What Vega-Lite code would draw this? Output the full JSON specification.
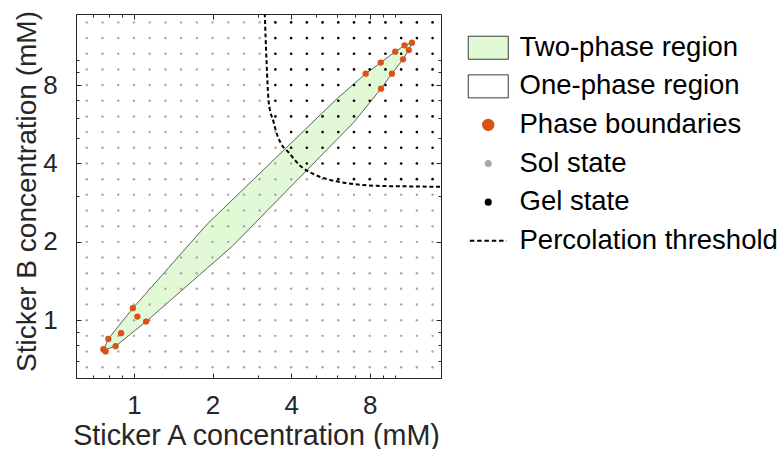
{
"$schema": "https://vega.github.io/schema/vega-lite/v6.json",
"width": 365, "height": 364,
"autosize": {"type": "none"},
"padding": {"left": 76, "top": 14, "right": 341, "bottom": 71},
"background": "white",
"config": {
 "font": "Liberation Sans",
 "view": {"stroke": "#262626", "strokeWidth": 1},
 "axis": {"domain": false, "grid": false, "tickColor": "#262626", "tickWidth": 1, "labelColor": "#262626", "labelFont": "Liberation Sans", "labelFontSize": 26, "titleFont": "Liberation Sans", "titleFontSize": 28, "titleColor": "#262626", "titleFontWeight": "normal", "labelOverlap": false, "labelFlush": false}
},
"datasets": {
 "poly": [
  {"a":0.763,"b":0.766,"o":0},{"a":0.798,"b":0.848,"o":1},{"a":0.991,"b":1.113,"o":2},{"a":1.909,"b":2.341,"o":3},{"a":6.0,"b":7.10,"o":4},{"a":7.72,"b":8.85,"o":5},{"a":8.815,"b":9.76,"o":6},{"a":10.02,"b":10.75,"o":7},{"a":10.875,"b":11.37,"o":8},{"a":11.61,"b":11.64,"o":9},{"a":11.29,"b":10.90,"o":10},{"a":10.73,"b":10.05,"o":11},{"a":9.73,"b":8.85,"o":12},{"a":8.84,"b":7.75,"o":13},{"a":6.94,"b":5.745,"o":14},{"a":2.378,"b":1.922,"o":15},{"a":1.113,"b":0.988,"o":16},{"a":0.851,"b":0.795,"o":17}
 ],
 "pts": [
  {"a":11.61,"b":11.64},{"a":10.875,"b":11.37},{"a":11.29,"b":10.90},{"a":10.02,"b":10.75},{"a":10.73,"b":10.05},{"a":8.815,"b":9.76},{"a":9.73,"b":8.85},{"a":7.72,"b":8.85},{"a":8.84,"b":7.75},
  {"a":0.991,"b":1.113},{"a":1.031,"b":1.033},{"a":1.113,"b":0.988},{"a":0.893,"b":0.892},{"a":0.798,"b":0.848},{"a":0.851,"b":0.795},{"a":0.764,"b":0.774},{"a":0.779,"b":0.759}
 ],
 "perc": [
  {"a":3.17,"b":15.1},{"a":3.218,"b":10.05},{"a":3.284,"b":6.855},{"a":3.431,"b":5.745},{"a":3.483,"b":5.415},{"a":3.640,"b":4.815},{"a":3.916,"b":4.408},{"a":4.341,"b":3.916},{"a":4.880,"b":3.640},{"a":5.492,"b":3.482},{"a":6.551,"b":3.361},{"a":8.533,"b":3.283},{"a":11.44,"b":3.265},{"a":14.68,"b":3.254},{"a":15.2,"b":3.252}
 ],
 "grid": [
{"a":0.66,"b":0.66,"s":"Sol state"},{"a":0.758,"b":0.66,"s":"Sol state"},{"a":0.871,"b":0.66,"s":"Sol state"},{"a":1,"b":0.66,"s":"Sol state"},{"a":1.149,"b":0.66,"s":"Sol state"},{"a":1.32,"b":0.66,"s":"Sol state"},{"a":1.516,"b":0.66,"s":"Sol state"},{"a":1.741,"b":0.66,"s":"Sol state"},{"a":2,"b":0.66,"s":"Sol state"},{"a":2.297,"b":0.66,"s":"Sol state"},{"a":2.639,"b":0.66,"s":"Sol state"},{"a":3.031,"b":0.66,"s":"Sol state"},{"a":3.482,"b":0.66,"s":"Sol state"},{"a":4,"b":0.66,"s":"Sol state"},{"a":4.595,"b":0.66,"s":"Sol state"},{"a":5.278,"b":0.66,"s":"Sol state"},{"a":6.063,"b":0.66,"s":"Sol state"},{"a":6.964,"b":0.66,"s":"Sol state"},{"a":8,"b":0.66,"s":"Sol state"},{"a":9.19,"b":0.66,"s":"Sol state"},{"a":10.556,"b":0.66,"s":"Sol state"},{"a":12.126,"b":0.66,"s":"Sol state"},{"a":13.929,"b":0.66,"s":"Sol state"},
{"a":0.66,"b":0.758,"s":"Sol state"},{"a":0.758,"b":0.758,"s":"Sol state"},{"a":0.871,"b":0.758,"s":"Sol state"},{"a":1,"b":0.758,"s":"Sol state"},{"a":1.149,"b":0.758,"s":"Sol state"},{"a":1.32,"b":0.758,"s":"Sol state"},{"a":1.516,"b":0.758,"s":"Sol state"},{"a":1.741,"b":0.758,"s":"Sol state"},{"a":2,"b":0.758,"s":"Sol state"},{"a":2.297,"b":0.758,"s":"Sol state"},{"a":2.639,"b":0.758,"s":"Sol state"},{"a":3.031,"b":0.758,"s":"Sol state"},{"a":3.482,"b":0.758,"s":"Sol state"},{"a":4,"b":0.758,"s":"Sol state"},{"a":4.595,"b":0.758,"s":"Sol state"},{"a":5.278,"b":0.758,"s":"Sol state"},{"a":6.063,"b":0.758,"s":"Sol state"},{"a":6.964,"b":0.758,"s":"Sol state"},{"a":8,"b":0.758,"s":"Sol state"},{"a":9.19,"b":0.758,"s":"Sol state"},{"a":10.556,"b":0.758,"s":"Sol state"},{"a":12.126,"b":0.758,"s":"Sol state"},{"a":13.929,"b":0.758,"s":"Sol state"},
{"a":0.66,"b":0.871,"s":"Sol state"},{"a":0.758,"b":0.871,"s":"Sol state"},{"a":0.871,"b":0.871,"s":"Sol state"},{"a":1,"b":0.871,"s":"Sol state"},{"a":1.149,"b":0.871,"s":"Sol state"},{"a":1.32,"b":0.871,"s":"Sol state"},{"a":1.516,"b":0.871,"s":"Sol state"},{"a":1.741,"b":0.871,"s":"Sol state"},{"a":2,"b":0.871,"s":"Sol state"},{"a":2.297,"b":0.871,"s":"Sol state"},{"a":2.639,"b":0.871,"s":"Sol state"},{"a":3.031,"b":0.871,"s":"Sol state"},{"a":3.482,"b":0.871,"s":"Sol state"},{"a":4,"b":0.871,"s":"Sol state"},{"a":4.595,"b":0.871,"s":"Sol state"},{"a":5.278,"b":0.871,"s":"Sol state"},{"a":6.063,"b":0.871,"s":"Sol state"},{"a":6.964,"b":0.871,"s":"Sol state"},{"a":8,"b":0.871,"s":"Sol state"},{"a":9.19,"b":0.871,"s":"Sol state"},{"a":10.556,"b":0.871,"s":"Sol state"},{"a":12.126,"b":0.871,"s":"Sol state"},{"a":13.929,"b":0.871,"s":"Sol state"},
{"a":0.66,"b":1,"s":"Sol state"},{"a":0.758,"b":1,"s":"Sol state"},{"a":0.871,"b":1,"s":"Sol state"},{"a":1,"b":1,"s":"Sol state"},{"a":1.149,"b":1,"s":"Sol state"},{"a":1.32,"b":1,"s":"Sol state"},{"a":1.516,"b":1,"s":"Sol state"},{"a":1.741,"b":1,"s":"Sol state"},{"a":2,"b":1,"s":"Sol state"},{"a":2.297,"b":1,"s":"Sol state"},{"a":2.639,"b":1,"s":"Sol state"},{"a":3.031,"b":1,"s":"Sol state"},{"a":3.482,"b":1,"s":"Sol state"},{"a":4,"b":1,"s":"Sol state"},{"a":4.595,"b":1,"s":"Sol state"},{"a":5.278,"b":1,"s":"Sol state"},{"a":6.063,"b":1,"s":"Sol state"},{"a":6.964,"b":1,"s":"Sol state"},{"a":8,"b":1,"s":"Sol state"},{"a":9.19,"b":1,"s":"Sol state"},{"a":10.556,"b":1,"s":"Sol state"},{"a":12.126,"b":1,"s":"Sol state"},{"a":13.929,"b":1,"s":"Sol state"},
{"a":0.66,"b":1.149,"s":"Sol state"},{"a":0.758,"b":1.149,"s":"Sol state"},{"a":0.871,"b":1.149,"s":"Sol state"},{"a":1,"b":1.149,"s":"Sol state"},{"a":1.149,"b":1.149,"s":"Sol state"},{"a":1.32,"b":1.149,"s":"Sol state"},{"a":1.516,"b":1.149,"s":"Sol state"},{"a":1.741,"b":1.149,"s":"Sol state"},{"a":2,"b":1.149,"s":"Sol state"},{"a":2.297,"b":1.149,"s":"Sol state"},{"a":2.639,"b":1.149,"s":"Sol state"},{"a":3.031,"b":1.149,"s":"Sol state"},{"a":3.482,"b":1.149,"s":"Sol state"},{"a":4,"b":1.149,"s":"Sol state"},{"a":4.595,"b":1.149,"s":"Sol state"},{"a":5.278,"b":1.149,"s":"Sol state"},{"a":6.063,"b":1.149,"s":"Sol state"},{"a":6.964,"b":1.149,"s":"Sol state"},{"a":8,"b":1.149,"s":"Sol state"},{"a":9.19,"b":1.149,"s":"Sol state"},{"a":10.556,"b":1.149,"s":"Sol state"},{"a":12.126,"b":1.149,"s":"Sol state"},{"a":13.929,"b":1.149,"s":"Sol state"},
{"a":0.66,"b":1.32,"s":"Sol state"},{"a":0.758,"b":1.32,"s":"Sol state"},{"a":0.871,"b":1.32,"s":"Sol state"},{"a":1,"b":1.32,"s":"Sol state"},{"a":1.149,"b":1.32,"s":"Sol state"},{"a":1.32,"b":1.32,"s":"Sol state"},{"a":1.516,"b":1.32,"s":"Sol state"},{"a":1.741,"b":1.32,"s":"Sol state"},{"a":2,"b":1.32,"s":"Sol state"},{"a":2.297,"b":1.32,"s":"Sol state"},{"a":2.639,"b":1.32,"s":"Sol state"},{"a":3.031,"b":1.32,"s":"Sol state"},{"a":3.482,"b":1.32,"s":"Sol state"},{"a":4,"b":1.32,"s":"Sol state"},{"a":4.595,"b":1.32,"s":"Sol state"},{"a":5.278,"b":1.32,"s":"Sol state"},{"a":6.063,"b":1.32,"s":"Sol state"},{"a":6.964,"b":1.32,"s":"Sol state"},{"a":8,"b":1.32,"s":"Sol state"},{"a":9.19,"b":1.32,"s":"Sol state"},{"a":10.556,"b":1.32,"s":"Sol state"},{"a":12.126,"b":1.32,"s":"Sol state"},{"a":13.929,"b":1.32,"s":"Sol state"},
{"a":0.66,"b":1.516,"s":"Sol state"},{"a":0.758,"b":1.516,"s":"Sol state"},{"a":0.871,"b":1.516,"s":"Sol state"},{"a":1,"b":1.516,"s":"Sol state"},{"a":1.149,"b":1.516,"s":"Sol state"},{"a":1.32,"b":1.516,"s":"Sol state"},{"a":1.516,"b":1.516,"s":"Sol state"},{"a":1.741,"b":1.516,"s":"Sol state"},{"a":2,"b":1.516,"s":"Sol state"},{"a":2.297,"b":1.516,"s":"Sol state"},{"a":2.639,"b":1.516,"s":"Sol state"},{"a":3.031,"b":1.516,"s":"Sol state"},{"a":3.482,"b":1.516,"s":"Sol state"},{"a":4,"b":1.516,"s":"Sol state"},{"a":4.595,"b":1.516,"s":"Sol state"},{"a":5.278,"b":1.516,"s":"Sol state"},{"a":6.063,"b":1.516,"s":"Sol state"},{"a":6.964,"b":1.516,"s":"Sol state"},{"a":8,"b":1.516,"s":"Sol state"},{"a":9.19,"b":1.516,"s":"Sol state"},{"a":10.556,"b":1.516,"s":"Sol state"},{"a":12.126,"b":1.516,"s":"Sol state"},{"a":13.929,"b":1.516,"s":"Sol state"},
{"a":0.66,"b":1.741,"s":"Sol state"},{"a":0.758,"b":1.741,"s":"Sol state"},{"a":0.871,"b":1.741,"s":"Sol state"},{"a":1,"b":1.741,"s":"Sol state"},{"a":1.149,"b":1.741,"s":"Sol state"},{"a":1.32,"b":1.741,"s":"Sol state"},{"a":1.516,"b":1.741,"s":"Sol state"},{"a":1.741,"b":1.741,"s":"Sol state"},{"a":2,"b":1.741,"s":"Sol state"},{"a":2.297,"b":1.741,"s":"Sol state"},{"a":2.639,"b":1.741,"s":"Sol state"},{"a":3.031,"b":1.741,"s":"Sol state"},{"a":3.482,"b":1.741,"s":"Sol state"},{"a":4,"b":1.741,"s":"Sol state"},{"a":4.595,"b":1.741,"s":"Sol state"},{"a":5.278,"b":1.741,"s":"Sol state"},{"a":6.063,"b":1.741,"s":"Sol state"},{"a":6.964,"b":1.741,"s":"Sol state"},{"a":8,"b":1.741,"s":"Sol state"},{"a":9.19,"b":1.741,"s":"Sol state"},{"a":10.556,"b":1.741,"s":"Sol state"},{"a":12.126,"b":1.741,"s":"Sol state"},{"a":13.929,"b":1.741,"s":"Sol state"},
{"a":0.66,"b":2,"s":"Sol state"},{"a":0.758,"b":2,"s":"Sol state"},{"a":0.871,"b":2,"s":"Sol state"},{"a":1,"b":2,"s":"Sol state"},{"a":1.149,"b":2,"s":"Sol state"},{"a":1.32,"b":2,"s":"Sol state"},{"a":1.516,"b":2,"s":"Sol state"},{"a":1.741,"b":2,"s":"Sol state"},{"a":2,"b":2,"s":"Sol state"},{"a":2.297,"b":2,"s":"Sol state"},{"a":2.639,"b":2,"s":"Sol state"},{"a":3.031,"b":2,"s":"Sol state"},{"a":3.482,"b":2,"s":"Sol state"},{"a":4,"b":2,"s":"Sol state"},{"a":4.595,"b":2,"s":"Sol state"},{"a":5.278,"b":2,"s":"Sol state"},{"a":6.063,"b":2,"s":"Sol state"},{"a":6.964,"b":2,"s":"Sol state"},{"a":8,"b":2,"s":"Sol state"},{"a":9.19,"b":2,"s":"Sol state"},{"a":10.556,"b":2,"s":"Sol state"},{"a":12.126,"b":2,"s":"Sol state"},{"a":13.929,"b":2,"s":"Sol state"},
{"a":0.66,"b":2.297,"s":"Sol state"},{"a":0.758,"b":2.297,"s":"Sol state"},{"a":0.871,"b":2.297,"s":"Sol state"},{"a":1,"b":2.297,"s":"Sol state"},{"a":1.149,"b":2.297,"s":"Sol state"},{"a":1.32,"b":2.297,"s":"Sol state"},{"a":1.516,"b":2.297,"s":"Sol state"},{"a":1.741,"b":2.297,"s":"Sol state"},{"a":2,"b":2.297,"s":"Sol state"},{"a":2.297,"b":2.297,"s":"Sol state"},{"a":2.639,"b":2.297,"s":"Sol state"},{"a":3.031,"b":2.297,"s":"Sol state"},{"a":3.482,"b":2.297,"s":"Sol state"},{"a":4,"b":2.297,"s":"Sol state"},{"a":4.595,"b":2.297,"s":"Sol state"},{"a":5.278,"b":2.297,"s":"Sol state"},{"a":6.063,"b":2.297,"s":"Sol state"},{"a":6.964,"b":2.297,"s":"Sol state"},{"a":8,"b":2.297,"s":"Sol state"},{"a":9.19,"b":2.297,"s":"Sol state"},{"a":10.556,"b":2.297,"s":"Sol state"},{"a":12.126,"b":2.297,"s":"Sol state"},{"a":13.929,"b":2.297,"s":"Sol state"},
{"a":0.66,"b":2.639,"s":"Sol state"},{"a":0.758,"b":2.639,"s":"Sol state"},{"a":0.871,"b":2.639,"s":"Sol state"},{"a":1,"b":2.639,"s":"Sol state"},{"a":1.149,"b":2.639,"s":"Sol state"},{"a":1.32,"b":2.639,"s":"Sol state"},{"a":1.516,"b":2.639,"s":"Sol state"},{"a":1.741,"b":2.639,"s":"Sol state"},{"a":2,"b":2.639,"s":"Sol state"},{"a":2.297,"b":2.639,"s":"Sol state"},{"a":2.639,"b":2.639,"s":"Sol state"},{"a":3.031,"b":2.639,"s":"Sol state"},{"a":3.482,"b":2.639,"s":"Sol state"},{"a":4,"b":2.639,"s":"Sol state"},{"a":4.595,"b":2.639,"s":"Sol state"},{"a":5.278,"b":2.639,"s":"Sol state"},{"a":6.063,"b":2.639,"s":"Sol state"},{"a":6.964,"b":2.639,"s":"Sol state"},{"a":8,"b":2.639,"s":"Sol state"},{"a":9.19,"b":2.639,"s":"Sol state"},{"a":10.556,"b":2.639,"s":"Sol state"},{"a":12.126,"b":2.639,"s":"Sol state"},{"a":13.929,"b":2.639,"s":"Sol state"},
{"a":0.66,"b":3.031,"s":"Sol state"},{"a":0.758,"b":3.031,"s":"Sol state"},{"a":0.871,"b":3.031,"s":"Sol state"},{"a":1,"b":3.031,"s":"Sol state"},{"a":1.149,"b":3.031,"s":"Sol state"},{"a":1.32,"b":3.031,"s":"Sol state"},{"a":1.516,"b":3.031,"s":"Sol state"},{"a":1.741,"b":3.031,"s":"Sol state"},{"a":2,"b":3.031,"s":"Sol state"},{"a":2.297,"b":3.031,"s":"Sol state"},{"a":2.639,"b":3.031,"s":"Sol state"},{"a":3.031,"b":3.031,"s":"Sol state"},{"a":3.482,"b":3.031,"s":"Sol state"},{"a":4,"b":3.031,"s":"Sol state"},{"a":4.595,"b":3.031,"s":"Sol state"},{"a":5.278,"b":3.031,"s":"Sol state"},{"a":6.063,"b":3.031,"s":"Sol state"},{"a":6.964,"b":3.031,"s":"Sol state"},{"a":8,"b":3.031,"s":"Sol state"},{"a":9.19,"b":3.031,"s":"Sol state"},{"a":10.556,"b":3.031,"s":"Sol state"},{"a":12.126,"b":3.031,"s":"Sol state"},{"a":13.929,"b":3.031,"s":"Sol state"},
{"a":0.66,"b":3.482,"s":"Sol state"},{"a":0.758,"b":3.482,"s":"Sol state"},{"a":0.871,"b":3.482,"s":"Sol state"},{"a":1,"b":3.482,"s":"Sol state"},{"a":1.149,"b":3.482,"s":"Sol state"},{"a":1.32,"b":3.482,"s":"Sol state"},{"a":1.516,"b":3.482,"s":"Sol state"},{"a":1.741,"b":3.482,"s":"Sol state"},{"a":2,"b":3.482,"s":"Sol state"},{"a":2.297,"b":3.482,"s":"Sol state"},{"a":2.639,"b":3.482,"s":"Sol state"},{"a":3.031,"b":3.482,"s":"Sol state"},{"a":3.482,"b":3.482,"s":"Sol state"},{"a":4,"b":3.482,"s":"Sol state"},{"a":4.595,"b":3.482,"s":"Sol state"},{"a":5.278,"b":3.482,"s":"Sol state"},{"a":6.063,"b":3.482,"s":"Gel state"},{"a":6.964,"b":3.482,"s":"Gel state"},{"a":8,"b":3.482,"s":"Gel state"},{"a":9.19,"b":3.482,"s":"Gel state"},{"a":10.556,"b":3.482,"s":"Gel state"},{"a":12.126,"b":3.482,"s":"Gel state"},{"a":13.929,"b":3.482,"s":"Gel state"},
{"a":0.66,"b":4,"s":"Sol state"},{"a":0.758,"b":4,"s":"Sol state"},{"a":0.871,"b":4,"s":"Sol state"},{"a":1,"b":4,"s":"Sol state"},{"a":1.149,"b":4,"s":"Sol state"},{"a":1.32,"b":4,"s":"Sol state"},{"a":1.516,"b":4,"s":"Sol state"},{"a":1.741,"b":4,"s":"Sol state"},{"a":2,"b":4,"s":"Sol state"},{"a":2.297,"b":4,"s":"Sol state"},{"a":2.639,"b":4,"s":"Sol state"},{"a":3.031,"b":4,"s":"Sol state"},{"a":3.482,"b":4,"s":"Sol state"},{"a":4,"b":4,"s":"Sol state"},{"a":4.595,"b":4,"s":"Gel state"},{"a":5.278,"b":4,"s":"Gel state"},{"a":6.063,"b":4,"s":"Gel state"},{"a":6.964,"b":4,"s":"Gel state"},{"a":8,"b":4,"s":"Gel state"},{"a":9.19,"b":4,"s":"Gel state"},{"a":10.556,"b":4,"s":"Gel state"},{"a":12.126,"b":4,"s":"Gel state"},{"a":13.929,"b":4,"s":"Gel state"},
{"a":0.66,"b":4.595,"s":"Sol state"},{"a":0.758,"b":4.595,"s":"Sol state"},{"a":0.871,"b":4.595,"s":"Sol state"},{"a":1,"b":4.595,"s":"Sol state"},{"a":1.149,"b":4.595,"s":"Sol state"},{"a":1.32,"b":4.595,"s":"Sol state"},{"a":1.516,"b":4.595,"s":"Sol state"},{"a":1.741,"b":4.595,"s":"Sol state"},{"a":2,"b":4.595,"s":"Sol state"},{"a":2.297,"b":4.595,"s":"Sol state"},{"a":2.639,"b":4.595,"s":"Sol state"},{"a":3.031,"b":4.595,"s":"Sol state"},{"a":3.482,"b":4.595,"s":"Sol state"},{"a":4,"b":4.595,"s":"Gel state"},{"a":4.595,"b":4.595,"s":"Gel state"},{"a":5.278,"b":4.595,"s":"Gel state"},{"a":6.063,"b":4.595,"s":"Gel state"},{"a":6.964,"b":4.595,"s":"Gel state"},{"a":8,"b":4.595,"s":"Gel state"},{"a":9.19,"b":4.595,"s":"Gel state"},{"a":10.556,"b":4.595,"s":"Gel state"},{"a":12.126,"b":4.595,"s":"Gel state"},{"a":13.929,"b":4.595,"s":"Gel state"},
{"a":0.66,"b":5.278,"s":"Sol state"},{"a":0.758,"b":5.278,"s":"Sol state"},{"a":0.871,"b":5.278,"s":"Sol state"},{"a":1,"b":5.278,"s":"Sol state"},{"a":1.149,"b":5.278,"s":"Sol state"},{"a":1.32,"b":5.278,"s":"Sol state"},{"a":1.516,"b":5.278,"s":"Sol state"},{"a":1.741,"b":5.278,"s":"Sol state"},{"a":2,"b":5.278,"s":"Sol state"},{"a":2.297,"b":5.278,"s":"Sol state"},{"a":2.639,"b":5.278,"s":"Sol state"},{"a":3.031,"b":5.278,"s":"Sol state"},{"a":3.482,"b":5.278,"s":"Sol state"},{"a":4,"b":5.278,"s":"Gel state"},{"a":4.595,"b":5.278,"s":"Gel state"},{"a":5.278,"b":5.278,"s":"Gel state"},{"a":6.063,"b":5.278,"s":"Gel state"},{"a":6.964,"b":5.278,"s":"Gel state"},{"a":8,"b":5.278,"s":"Gel state"},{"a":9.19,"b":5.278,"s":"Gel state"},{"a":10.556,"b":5.278,"s":"Gel state"},{"a":12.126,"b":5.278,"s":"Gel state"},{"a":13.929,"b":5.278,"s":"Gel state"},
{"a":0.66,"b":6.063,"s":"Sol state"},{"a":0.758,"b":6.063,"s":"Sol state"},{"a":0.871,"b":6.063,"s":"Sol state"},{"a":1,"b":6.063,"s":"Sol state"},{"a":1.149,"b":6.063,"s":"Sol state"},{"a":1.32,"b":6.063,"s":"Sol state"},{"a":1.516,"b":6.063,"s":"Sol state"},{"a":1.741,"b":6.063,"s":"Sol state"},{"a":2,"b":6.063,"s":"Sol state"},{"a":2.297,"b":6.063,"s":"Sol state"},{"a":2.639,"b":6.063,"s":"Sol state"},{"a":3.031,"b":6.063,"s":"Sol state"},{"a":3.482,"b":6.063,"s":"Gel state"},{"a":4,"b":6.063,"s":"Gel state"},{"a":4.595,"b":6.063,"s":"Gel state"},{"a":5.278,"b":6.063,"s":"Gel state"},{"a":6.063,"b":6.063,"s":"Gel state"},{"a":6.964,"b":6.063,"s":"Gel state"},{"a":8,"b":6.063,"s":"Gel state"},{"a":9.19,"b":6.063,"s":"Gel state"},{"a":10.556,"b":6.063,"s":"Gel state"},{"a":12.126,"b":6.063,"s":"Gel state"},{"a":13.929,"b":6.063,"s":"Gel state"},
{"a":0.66,"b":6.964,"s":"Sol state"},{"a":0.758,"b":6.964,"s":"Sol state"},{"a":0.871,"b":6.964,"s":"Sol state"},{"a":1,"b":6.964,"s":"Sol state"},{"a":1.149,"b":6.964,"s":"Sol state"},{"a":1.32,"b":6.964,"s":"Sol state"},{"a":1.516,"b":6.964,"s":"Sol state"},{"a":1.741,"b":6.964,"s":"Sol state"},{"a":2,"b":6.964,"s":"Sol state"},{"a":2.297,"b":6.964,"s":"Sol state"},{"a":2.639,"b":6.964,"s":"Sol state"},{"a":3.031,"b":6.964,"s":"Sol state"},{"a":3.482,"b":6.964,"s":"Gel state"},{"a":4,"b":6.964,"s":"Gel state"},{"a":4.595,"b":6.964,"s":"Gel state"},{"a":5.278,"b":6.964,"s":"Gel state"},{"a":6.063,"b":6.964,"s":"Gel state"},{"a":6.964,"b":6.964,"s":"Gel state"},{"a":8,"b":6.964,"s":"Gel state"},{"a":9.19,"b":6.964,"s":"Gel state"},{"a":10.556,"b":6.964,"s":"Gel state"},{"a":12.126,"b":6.964,"s":"Gel state"},{"a":13.929,"b":6.964,"s":"Gel state"},
{"a":0.66,"b":8,"s":"Sol state"},{"a":0.758,"b":8,"s":"Sol state"},{"a":0.871,"b":8,"s":"Sol state"},{"a":1,"b":8,"s":"Sol state"},{"a":1.149,"b":8,"s":"Sol state"},{"a":1.32,"b":8,"s":"Sol state"},{"a":1.516,"b":8,"s":"Sol state"},{"a":1.741,"b":8,"s":"Sol state"},{"a":2,"b":8,"s":"Sol state"},{"a":2.297,"b":8,"s":"Sol state"},{"a":2.639,"b":8,"s":"Sol state"},{"a":3.031,"b":8,"s":"Sol state"},{"a":3.482,"b":8,"s":"Gel state"},{"a":4,"b":8,"s":"Gel state"},{"a":4.595,"b":8,"s":"Gel state"},{"a":5.278,"b":8,"s":"Gel state"},{"a":6.063,"b":8,"s":"Gel state"},{"a":6.964,"b":8,"s":"Gel state"},{"a":8,"b":8,"s":"Gel state"},{"a":9.19,"b":8,"s":"Gel state"},{"a":10.556,"b":8,"s":"Gel state"},{"a":12.126,"b":8,"s":"Gel state"},{"a":13.929,"b":8,"s":"Gel state"},
{"a":0.66,"b":9.19,"s":"Sol state"},{"a":0.758,"b":9.19,"s":"Sol state"},{"a":0.871,"b":9.19,"s":"Sol state"},{"a":1,"b":9.19,"s":"Sol state"},{"a":1.149,"b":9.19,"s":"Sol state"},{"a":1.32,"b":9.19,"s":"Sol state"},{"a":1.516,"b":9.19,"s":"Sol state"},{"a":1.741,"b":9.19,"s":"Sol state"},{"a":2,"b":9.19,"s":"Sol state"},{"a":2.297,"b":9.19,"s":"Sol state"},{"a":2.639,"b":9.19,"s":"Sol state"},{"a":3.031,"b":9.19,"s":"Sol state"},{"a":3.482,"b":9.19,"s":"Gel state"},{"a":4,"b":9.19,"s":"Gel state"},{"a":4.595,"b":9.19,"s":"Gel state"},{"a":5.278,"b":9.19,"s":"Gel state"},{"a":6.063,"b":9.19,"s":"Gel state"},{"a":6.964,"b":9.19,"s":"Gel state"},{"a":8,"b":9.19,"s":"Gel state"},{"a":9.19,"b":9.19,"s":"Gel state"},{"a":10.556,"b":9.19,"s":"Gel state"},{"a":12.126,"b":9.19,"s":"Gel state"},{"a":13.929,"b":9.19,"s":"Gel state"},
{"a":0.66,"b":10.556,"s":"Sol state"},{"a":0.758,"b":10.556,"s":"Sol state"},{"a":0.871,"b":10.556,"s":"Sol state"},{"a":1,"b":10.556,"s":"Sol state"},{"a":1.149,"b":10.556,"s":"Sol state"},{"a":1.32,"b":10.556,"s":"Sol state"},{"a":1.516,"b":10.556,"s":"Sol state"},{"a":1.741,"b":10.556,"s":"Sol state"},{"a":2,"b":10.556,"s":"Sol state"},{"a":2.297,"b":10.556,"s":"Sol state"},{"a":2.639,"b":10.556,"s":"Sol state"},{"a":3.031,"b":10.556,"s":"Sol state"},{"a":3.482,"b":10.556,"s":"Gel state"},{"a":4,"b":10.556,"s":"Gel state"},{"a":4.595,"b":10.556,"s":"Gel state"},{"a":5.278,"b":10.556,"s":"Gel state"},{"a":6.063,"b":10.556,"s":"Gel state"},{"a":6.964,"b":10.556,"s":"Gel state"},{"a":8,"b":10.556,"s":"Gel state"},{"a":9.19,"b":10.556,"s":"Gel state"},{"a":10.556,"b":10.556,"s":"Gel state"},{"a":12.126,"b":10.556,"s":"Gel state"},{"a":13.929,"b":10.556,"s":"Gel state"},
{"a":0.66,"b":12.126,"s":"Sol state"},{"a":0.758,"b":12.126,"s":"Sol state"},{"a":0.871,"b":12.126,"s":"Sol state"},{"a":1,"b":12.126,"s":"Sol state"},{"a":1.149,"b":12.126,"s":"Sol state"},{"a":1.32,"b":12.126,"s":"Sol state"},{"a":1.516,"b":12.126,"s":"Sol state"},{"a":1.741,"b":12.126,"s":"Sol state"},{"a":2,"b":12.126,"s":"Sol state"},{"a":2.297,"b":12.126,"s":"Sol state"},{"a":2.639,"b":12.126,"s":"Sol state"},{"a":3.031,"b":12.126,"s":"Sol state"},{"a":3.482,"b":12.126,"s":"Gel state"},{"a":4,"b":12.126,"s":"Gel state"},{"a":4.595,"b":12.126,"s":"Gel state"},{"a":5.278,"b":12.126,"s":"Gel state"},{"a":6.063,"b":12.126,"s":"Gel state"},{"a":6.964,"b":12.126,"s":"Gel state"},{"a":8,"b":12.126,"s":"Gel state"},{"a":9.19,"b":12.126,"s":"Gel state"},{"a":10.556,"b":12.126,"s":"Gel state"},{"a":12.126,"b":12.126,"s":"Gel state"},{"a":13.929,"b":12.126,"s":"Gel state"},
{"a":0.66,"b":13.929,"s":"Sol state"},{"a":0.758,"b":13.929,"s":"Sol state"},{"a":0.871,"b":13.929,"s":"Sol state"},{"a":1,"b":13.929,"s":"Sol state"},{"a":1.149,"b":13.929,"s":"Sol state"},{"a":1.32,"b":13.929,"s":"Sol state"},{"a":1.516,"b":13.929,"s":"Sol state"},{"a":1.741,"b":13.929,"s":"Sol state"},{"a":2,"b":13.929,"s":"Sol state"},{"a":2.297,"b":13.929,"s":"Sol state"},{"a":2.639,"b":13.929,"s":"Sol state"},{"a":3.031,"b":13.929,"s":"Sol state"},{"a":3.482,"b":13.929,"s":"Gel state"},{"a":4,"b":13.929,"s":"Gel state"},{"a":4.595,"b":13.929,"s":"Gel state"},{"a":5.278,"b":13.929,"s":"Gel state"},{"a":6.063,"b":13.929,"s":"Gel state"},{"a":6.964,"b":13.929,"s":"Gel state"},{"a":8,"b":13.929,"s":"Gel state"},{"a":9.19,"b":13.929,"s":"Gel state"},{"a":10.556,"b":13.929,"s":"Gel state"},{"a":12.126,"b":13.929,"s":"Gel state"},{"a":13.929,"b":13.929,"s":"Gel state"}
 ]
},
"layer": [
 {
  "data": {"name": "poly"},
  "mark": {"type": "line", "interpolate": "linear-closed", "fill": "#e1f9d4", "stroke": "#3a3a3a", "strokeWidth": 0.8, "clip": true},
  "encoding": {
   "x": {"field": "a", "type": "quantitative", "scale": {"type": "log", "base": 2, "domain": [0.6, 15], "nice": false},
         "axis": {"orient": "bottom", "values": [1, 2, 4, 8], "tickSize": -5, "labelPadding": 40.3, "labelBaseline": "alphabetic", "title": "Sticker A concentration (mM)", "titleFontSize": 28.7, "titleX": 180, "titleY": 66, "titleBaseline": "alphabetic"}},
   "y": {"field": "b", "type": "quantitative", "scale": {"type": "log", "base": 2, "domain": [0.6, 15], "nice": false},
         "axis": {"orient": "left", "values": [1, 2, 4, 8], "tickSize": -5, "labelPadding": 23.7, "labelBaseline": "middle", "title": "Sticker B concentration (mM)", "titleX": -41, "titleY": 177, "titleAngle": 270, "titleBaseline": "alphabetic"}},
   "order": {"field": "o", "type": "quantitative"}
  }
 },
 {
  "data": {"name": "grid"},
  "mark": {"type": "point", "filled": true, "opacity": 1, "clip": true},
  "encoding": {
   "x": {"field": "a", "type": "quantitative", "axis": {"orient": "bottom", "values": [0.6, 0.7, 0.8, 0.9, 3, 5, 6, 7, 9, 10], "tickSize": -3, "labels": false, "title": null}},
   "y": {"field": "b", "type": "quantitative", "axis": {"orient": "left", "values": [0.6, 0.7, 0.8, 0.9, 3, 5, 6, 7, 9, 10], "tickSize": -3, "labels": false, "title": null}},
   "size": {"field": "s", "type": "nominal", "scale": {"domain": ["Sol state", "Gel state"], "range": [6, 7]}, "legend": null},
   "fill": {"field": "s", "type": "nominal",
    "scale": {"domain": ["Two-phase region", "One-phase region", "Phase boundaries", "Sol state", "Gel state", "Percolation threshold"], "range": ["#e1f9d4", "#ffffff", "#d95319", "#a8a8a8", "#000000", "#000000"]},
    "legend": {"title": null, "orient": "none", "legendX": 398.5, "legendY": 20, "padding": 0, "symbolSize": 1600, "rowPadding": 9.6, "labelOffset": 17.5, "labelLimit": 0, "labelFont": "Liberation Sans", "labelFontSize": 27.5, "labelColor": "#000000", "symbolOpacity": 1,
     "encode": {"symbols": {"update": {
      "shape": {"signal": "datum.index < 2 ? 'M-1,-0.575H1V0.575H-1Z' : datum.index == 5 ? 'M-0.92,0H0.92' : 'circle'"},
      "size": {"signal": "datum.index < 2 ? 1600 : datum.index == 2 ? 154 : datum.index == 5 ? 1600 : 50"},
      "fill": {"signal": "datum.index == 0 ? '#e1f9d4' : datum.index == 1 ? '#ffffff' : datum.index == 2 ? '#d95319' : datum.index == 3 ? '#a8a8a8' : datum.index == 4 ? '#000000' : 'transparent'"},
      "stroke": {"signal": "datum.index < 2 ? '#262626' : datum.index == 5 ? '#000000' : 'transparent'"},
      "strokeWidth": {"signal": "datum.index < 2 ? 1 : datum.index == 5 ? 2 : 0"},
      "strokeDash": {"signal": "datum.index == 5 ? [4.5, 2.8] : [1, 0]"},
      "opacity": {"value": 1}
     }}}
    }}
  }
 },
 {
  "data": {"name": "perc"},
  "mark": {"type": "line", "interpolate": "monotone", "stroke": "#000000", "strokeWidth": 2, "strokeDash": [4, 2.7], "clip": true},
  "encoding": {
   "x": {"field": "a", "type": "quantitative", "axis": {"orient": "top", "values": [1, 2, 4, 8], "tickSize": -5, "labels": false, "title": null}},
   "y": {"field": "b", "type": "quantitative", "axis": {"orient": "right", "values": [1, 2, 4, 8], "tickSize": -5, "labels": false, "title": null}}
  }
 },
 {
  "data": {"name": "pts"},
  "mark": {"type": "circle", "color": "#d95319", "opacity": 1, "size": 40, "clip": true},
  "encoding": {
   "x": {"field": "a", "type": "quantitative", "axis": {"orient": "top", "values": [0.6, 0.7, 0.8, 0.9, 3, 5, 6, 7, 9, 10], "tickSize": -3, "labels": false, "title": null}},
   "y": {"field": "b", "type": "quantitative", "axis": {"orient": "right", "values": [0.6, 0.7, 0.8, 0.9, 3, 5, 6, 7, 9, 10], "tickSize": -3, "labels": false, "title": null}}
  }
 }
],
"resolve": {"axis": {"x": "independent", "y": "independent"}}
}
